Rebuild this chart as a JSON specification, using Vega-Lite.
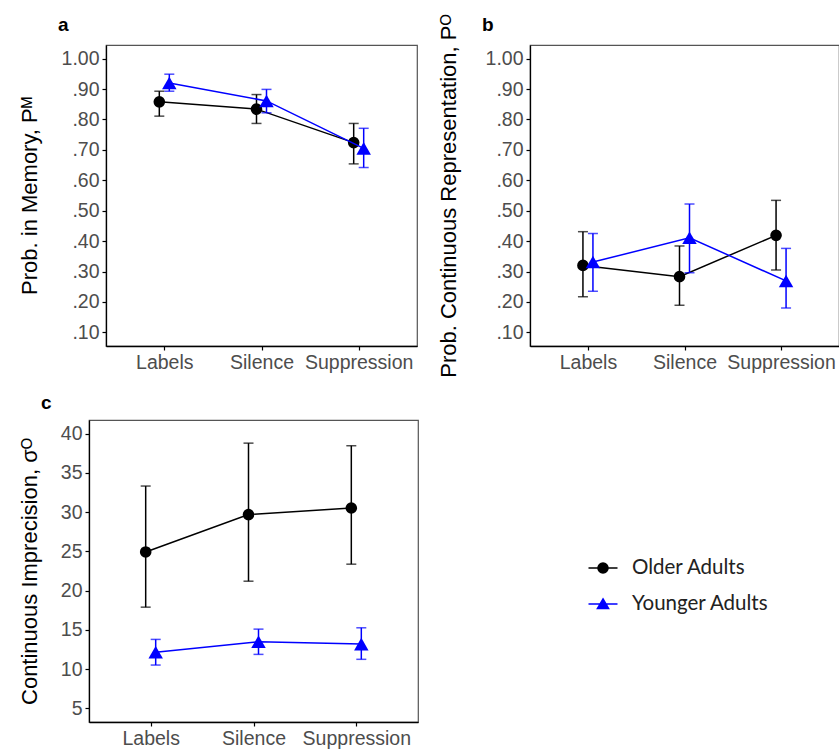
{
  "$schema": "https://vega.github.io/schema/vega-lite/v6.json",
  "background": "white",
  "padding": {"left": 17, "top": 13, "right": 0, "bottom": 0},
  "datasets": {
    "d": [
      {"panel": "a", "cond": "Labels", "group": "Older Adults", "mean": 0.858, "lo": 0.811, "hi": 0.893},
      {"panel": "a", "cond": "Silence", "group": "Older Adults", "mean": 0.834, "lo": 0.787, "hi": 0.882},
      {"panel": "a", "cond": "Suppression", "group": "Older Adults", "mean": 0.724, "lo": 0.654, "hi": 0.787},
      {"panel": "a", "cond": "Labels", "group": "Younger Adults", "mean": 0.920, "lo": 0.893, "hi": 0.949},
      {"panel": "a", "cond": "Silence", "group": "Younger Adults", "mean": 0.861, "lo": 0.822, "hi": 0.899},
      {"panel": "a", "cond": "Suppression", "group": "Younger Adults", "mean": 0.705, "lo": 0.642, "hi": 0.771},
      {"panel": "b", "cond": "Labels", "group": "Older Adults", "mean": 0.320, "lo": 0.217, "hi": 0.431},
      {"panel": "b", "cond": "Silence", "group": "Older Adults", "mean": 0.283, "lo": 0.189, "hi": 0.384},
      {"panel": "b", "cond": "Suppression", "group": "Older Adults", "mean": 0.419, "lo": 0.305, "hi": 0.534},
      {"panel": "b", "cond": "Labels", "group": "Younger Adults", "mean": 0.331, "lo": 0.235, "hi": 0.425},
      {"panel": "b", "cond": "Silence", "group": "Younger Adults", "mean": 0.411, "lo": 0.296, "hi": 0.522},
      {"panel": "b", "cond": "Suppression", "group": "Younger Adults", "mean": 0.269, "lo": 0.180, "hi": 0.376},
      {"panel": "c", "cond": "Labels", "group": "Older Adults", "mean": 24.93, "lo": 17.89, "hi": 33.33},
      {"panel": "c", "cond": "Silence", "group": "Older Adults", "mean": 29.69, "lo": 21.2, "hi": 38.8},
      {"panel": "c", "cond": "Suppression", "group": "Older Adults", "mean": 30.53, "lo": 23.37, "hi": 38.47},
      {"panel": "c", "cond": "Labels", "group": "Younger Adults", "mean": 12.13, "lo": 10.51, "hi": 13.78},
      {"panel": "c", "cond": "Silence", "group": "Younger Adults", "mean": 13.48, "lo": 11.87, "hi": 15.09},
      {"panel": "c", "cond": "Suppression", "group": "Younger Adults", "mean": 13.18, "lo": 11.24, "hi": 15.26}
    ]
  },
  "config": {
    "view": {"stroke": "#555555", "strokeWidth": 1.2},
    "axis": {
      "grid": false, "domainColor": "#000000", "domainWidth": 1.3, "tickColor": "#000000", "tickWidth": 1.2, "tickSize": 4,
      "labelFont": "Liberation Sans", "labelFontSize": 19.5, "labelColor": "#4d4d4d", "labelPadding": 3,
      "titleFont": "Liberation Sans", "titleFontSize": 22, "titleFontWeight": "normal", "titleColor": "#000000"
    },
    "title": {"font": "Liberation Sans", "fontSize": 19, "fontWeight": "bold", "anchor": "start", "frame": "group", "dx": -48, "offset": 10, "color": "#000000"}
  },
  "resolve": {"scale": {"fill": "independent", "stroke": "independent", "shape": "independent"}, "legend": {"fill": "independent", "stroke": "independent", "shape": "independent"}},
  "spacing": 15,
  "columns": 1,
  "align": "none",
  "concat": [
    {
      "bounds": "flush",
      "spacing": 16,
      "hconcat": [
        {"width": 1, "height": 1, "data": {"values": []}, "mark": {"type": "point"}, "encoding": {}, "view": {"stroke": null}},
        {
          "hconcat": [
            {
              "width": 311, "height": 301,
              "title": {"text": "a"},
              "data": {"name": "d"},
              "transform": [{"filter": "datum.panel === 'a'"}],
              "layer": [
                {"transform": [{"filter": "datum.group === 'Older Adults'"}], "mark": {"type": "line", "color": "#000000", "strokeWidth": 1.5, "xOffset": -5},
                 "encoding": {"x": {"field": "cond", "type": "nominal", "sort": ["Labels", "Silence", "Suppression"], "scale": {"type": "point", "padding": 0.6}, "axis": {"title": null, "labelAngle": 0}},
                              "y": {"field": "mean", "type": "quantitative", "scale": {"domain": [0.055, 1.045], "nice": false, "zero": false}, "axis": {"title": "Prob. in Memory, Pᴹ", "values": [0.1, 0.2, 0.3, 0.4, 0.5, 0.6, 0.7, 0.8, 0.9, 1.0], "labelExpr": "datum.value >= 0.999 ? '1.00' : replace(format(datum.value, '.2f'), '0.', '.')", "titlePadding": 20}}}},
                {"transform": [{"filter": "datum.group === 'Older Adults'"}], "mark": {"type": "rule", "color": "#000000", "strokeWidth": 1.5, "xOffset": -5},
                 "encoding": {"x": {"field": "cond", "type": "nominal", "sort": ["Labels", "Silence", "Suppression"], "scale": {"type": "point", "padding": 0.6}, "axis": {"title": null, "labelAngle": 0}},
                              "y": {"field": "lo", "type": "quantitative", "scale": {"domain": [0.055, 1.045], "nice": false, "zero": false}, "axis": {"title": "Prob. in Memory, Pᴹ", "values": [0.1, 0.2, 0.3, 0.4, 0.5, 0.6, 0.7, 0.8, 0.9, 1.0], "labelExpr": "datum.value >= 0.999 ? '1.00' : replace(format(datum.value, '.2f'), '0.', '.')", "titlePadding": 20}},
                              "y2": {"field": "hi"}}},
                {"transform": [{"filter": "datum.group === 'Older Adults'"}, {"fold": ["lo", "hi"], "as": ["k", "v"]}], "mark": {"type": "tick", "color": "#000000", "thickness": 1.5, "size": 10, "xOffset": -5, "orient": "horizontal"},
                 "encoding": {"x": {"field": "cond", "type": "nominal", "sort": ["Labels", "Silence", "Suppression"], "scale": {"type": "point", "padding": 0.6}, "axis": {"title": null, "labelAngle": 0}},
                              "y": {"field": "v", "type": "quantitative", "scale": {"domain": [0.055, 1.045], "nice": false, "zero": false}, "axis": {"title": "Prob. in Memory, Pᴹ", "values": [0.1, 0.2, 0.3, 0.4, 0.5, 0.6, 0.7, 0.8, 0.9, 1.0], "labelExpr": "datum.value >= 0.999 ? '1.00' : replace(format(datum.value, '.2f'), '0.', '.')", "titlePadding": 20}}}},
                {"transform": [{"filter": "datum.group === 'Older Adults'"}], "mark": {"type": "point", "filled": true, "shape": "circle", "size": 135, "color": "#000000", "opacity": 1, "xOffset": -5},
                 "encoding": {"x": {"field": "cond", "type": "nominal", "sort": ["Labels", "Silence", "Suppression"], "scale": {"type": "point", "padding": 0.6}, "axis": {"title": null, "labelAngle": 0}},
                              "y": {"field": "mean", "type": "quantitative", "scale": {"domain": [0.055, 1.045], "nice": false, "zero": false}, "axis": {"title": "Prob. in Memory, Pᴹ", "values": [0.1, 0.2, 0.3, 0.4, 0.5, 0.6, 0.7, 0.8, 0.9, 1.0], "labelExpr": "datum.value >= 0.999 ? '1.00' : replace(format(datum.value, '.2f'), '0.', '.')", "titlePadding": 20}}}},
                {"transform": [{"filter": "datum.group === 'Younger Adults'"}], "mark": {"type": "line", "color": "#0000ff", "strokeWidth": 1.5, "xOffset": 5},
                 "encoding": {"x": {"field": "cond", "type": "nominal", "sort": ["Labels", "Silence", "Suppression"], "scale": {"type": "point", "padding": 0.6}, "axis": {"title": null, "labelAngle": 0}},
                              "y": {"field": "mean", "type": "quantitative", "scale": {"domain": [0.055, 1.045], "nice": false, "zero": false}, "axis": {"title": "Prob. in Memory, Pᴹ", "values": [0.1, 0.2, 0.3, 0.4, 0.5, 0.6, 0.7, 0.8, 0.9, 1.0], "labelExpr": "datum.value >= 0.999 ? '1.00' : replace(format(datum.value, '.2f'), '0.', '.')", "titlePadding": 20}}}},
                {"transform": [{"filter": "datum.group === 'Younger Adults'"}], "mark": {"type": "rule", "color": "#0000ff", "strokeWidth": 1.5, "xOffset": 5},
                 "encoding": {"x": {"field": "cond", "type": "nominal", "sort": ["Labels", "Silence", "Suppression"], "scale": {"type": "point", "padding": 0.6}, "axis": {"title": null, "labelAngle": 0}},
                              "y": {"field": "lo", "type": "quantitative", "scale": {"domain": [0.055, 1.045], "nice": false, "zero": false}, "axis": {"title": "Prob. in Memory, Pᴹ", "values": [0.1, 0.2, 0.3, 0.4, 0.5, 0.6, 0.7, 0.8, 0.9, 1.0], "labelExpr": "datum.value >= 0.999 ? '1.00' : replace(format(datum.value, '.2f'), '0.', '.')", "titlePadding": 20}},
                              "y2": {"field": "hi"}}},
                {"transform": [{"filter": "datum.group === 'Younger Adults'"}, {"fold": ["lo", "hi"], "as": ["k", "v"]}], "mark": {"type": "tick", "color": "#0000ff", "thickness": 1.5, "size": 10, "xOffset": 5, "orient": "horizontal"},
                 "encoding": {"x": {"field": "cond", "type": "nominal", "sort": ["Labels", "Silence", "Suppression"], "scale": {"type": "point", "padding": 0.6}, "axis": {"title": null, "labelAngle": 0}},
                              "y": {"field": "v", "type": "quantitative", "scale": {"domain": [0.055, 1.045], "nice": false, "zero": false}, "axis": {"title": "Prob. in Memory, Pᴹ", "values": [0.1, 0.2, 0.3, 0.4, 0.5, 0.6, 0.7, 0.8, 0.9, 1.0], "labelExpr": "datum.value >= 0.999 ? '1.00' : replace(format(datum.value, '.2f'), '0.', '.')", "titlePadding": 20}}}},
                {"transform": [{"filter": "datum.group === 'Younger Adults'"}], "mark": {"type": "point", "filled": true, "shape": "triangle-up", "size": 210, "color": "#0000ff", "opacity": 1, "xOffset": 5},
                 "encoding": {"x": {"field": "cond", "type": "nominal", "sort": ["Labels", "Silence", "Suppression"], "scale": {"type": "point", "padding": 0.6}, "axis": {"title": null, "labelAngle": 0}},
                              "y": {"field": "mean", "type": "quantitative", "scale": {"domain": [0.055, 1.045], "nice": false, "zero": false}, "axis": {"title": "Prob. in Memory, Pᴹ", "values": [0.1, 0.2, 0.3, 0.4, 0.5, 0.6, 0.7, 0.8, 0.9, 1.0], "labelExpr": "datum.value >= 0.999 ? '1.00' : replace(format(datum.value, '.2f'), '0.', '.')", "titlePadding": 20}}}}
              ]
            },
            {
              "width": 309, "height": 301,
              "title": {"text": "b", "dy": 31},
              "data": {"name": "d"},
              "transform": [{"filter": "datum.panel === 'b'"}],
              "layer": [
                {"transform": [{"filter": "datum.group === 'Older Adults'"}], "mark": {"type": "line", "color": "#000000", "strokeWidth": 1.5, "xOffset": -5},
                 "encoding": {"x": {"field": "cond", "type": "nominal", "sort": ["Labels", "Silence", "Suppression"], "scale": {"type": "point", "padding": 0.6}, "axis": {"title": null, "labelAngle": 0}},
                              "y": {"field": "mean", "type": "quantitative", "scale": {"domain": [0.055, 1.045], "nice": false, "zero": false}, "axis": {"title": "Prob. Continuous Representation, Pᴼ", "values": [0.1, 0.2, 0.3, 0.4, 0.5, 0.6, 0.7, 0.8, 0.9, 1.0], "labelExpr": "datum.value >= 0.999 ? '1.00' : replace(format(datum.value, '.2f'), '0.', '.')", "titlePadding": 25}}}},
                {"transform": [{"filter": "datum.group === 'Older Adults'"}], "mark": {"type": "rule", "color": "#000000", "strokeWidth": 1.5, "xOffset": -5},
                 "encoding": {"x": {"field": "cond", "type": "nominal", "sort": ["Labels", "Silence", "Suppression"], "scale": {"type": "point", "padding": 0.6}, "axis": {"title": null, "labelAngle": 0}},
                              "y": {"field": "lo", "type": "quantitative", "scale": {"domain": [0.055, 1.045], "nice": false, "zero": false}, "axis": {"title": "Prob. Continuous Representation, Pᴼ", "values": [0.1, 0.2, 0.3, 0.4, 0.5, 0.6, 0.7, 0.8, 0.9, 1.0], "labelExpr": "datum.value >= 0.999 ? '1.00' : replace(format(datum.value, '.2f'), '0.', '.')", "titlePadding": 25}},
                              "y2": {"field": "hi"}}},
                {"transform": [{"filter": "datum.group === 'Older Adults'"}, {"fold": ["lo", "hi"], "as": ["k", "v"]}], "mark": {"type": "tick", "color": "#000000", "thickness": 1.5, "size": 10, "xOffset": -5, "orient": "horizontal"},
                 "encoding": {"x": {"field": "cond", "type": "nominal", "sort": ["Labels", "Silence", "Suppression"], "scale": {"type": "point", "padding": 0.6}, "axis": {"title": null, "labelAngle": 0}},
                              "y": {"field": "v", "type": "quantitative", "scale": {"domain": [0.055, 1.045], "nice": false, "zero": false}, "axis": {"title": "Prob. Continuous Representation, Pᴼ", "values": [0.1, 0.2, 0.3, 0.4, 0.5, 0.6, 0.7, 0.8, 0.9, 1.0], "labelExpr": "datum.value >= 0.999 ? '1.00' : replace(format(datum.value, '.2f'), '0.', '.')", "titlePadding": 25}}}},
                {"transform": [{"filter": "datum.group === 'Older Adults'"}], "mark": {"type": "point", "filled": true, "shape": "circle", "size": 135, "color": "#000000", "opacity": 1, "xOffset": -5},
                 "encoding": {"x": {"field": "cond", "type": "nominal", "sort": ["Labels", "Silence", "Suppression"], "scale": {"type": "point", "padding": 0.6}, "axis": {"title": null, "labelAngle": 0}},
                              "y": {"field": "mean", "type": "quantitative", "scale": {"domain": [0.055, 1.045], "nice": false, "zero": false}, "axis": {"title": "Prob. Continuous Representation, Pᴼ", "values": [0.1, 0.2, 0.3, 0.4, 0.5, 0.6, 0.7, 0.8, 0.9, 1.0], "labelExpr": "datum.value >= 0.999 ? '1.00' : replace(format(datum.value, '.2f'), '0.', '.')", "titlePadding": 25}}}},
                {"transform": [{"filter": "datum.group === 'Younger Adults'"}], "mark": {"type": "line", "color": "#0000ff", "strokeWidth": 1.5, "xOffset": 5},
                 "encoding": {"x": {"field": "cond", "type": "nominal", "sort": ["Labels", "Silence", "Suppression"], "scale": {"type": "point", "padding": 0.6}, "axis": {"title": null, "labelAngle": 0}},
                              "y": {"field": "mean", "type": "quantitative", "scale": {"domain": [0.055, 1.045], "nice": false, "zero": false}, "axis": {"title": "Prob. Continuous Representation, Pᴼ", "values": [0.1, 0.2, 0.3, 0.4, 0.5, 0.6, 0.7, 0.8, 0.9, 1.0], "labelExpr": "datum.value >= 0.999 ? '1.00' : replace(format(datum.value, '.2f'), '0.', '.')", "titlePadding": 25}}}},
                {"transform": [{"filter": "datum.group === 'Younger Adults'"}], "mark": {"type": "rule", "color": "#0000ff", "strokeWidth": 1.5, "xOffset": 5},
                 "encoding": {"x": {"field": "cond", "type": "nominal", "sort": ["Labels", "Silence", "Suppression"], "scale": {"type": "point", "padding": 0.6}, "axis": {"title": null, "labelAngle": 0}},
                              "y": {"field": "lo", "type": "quantitative", "scale": {"domain": [0.055, 1.045], "nice": false, "zero": false}, "axis": {"title": "Prob. Continuous Representation, Pᴼ", "values": [0.1, 0.2, 0.3, 0.4, 0.5, 0.6, 0.7, 0.8, 0.9, 1.0], "labelExpr": "datum.value >= 0.999 ? '1.00' : replace(format(datum.value, '.2f'), '0.', '.')", "titlePadding": 25}},
                              "y2": {"field": "hi"}}},
                {"transform": [{"filter": "datum.group === 'Younger Adults'"}, {"fold": ["lo", "hi"], "as": ["k", "v"]}], "mark": {"type": "tick", "color": "#0000ff", "thickness": 1.5, "size": 10, "xOffset": 5, "orient": "horizontal"},
                 "encoding": {"x": {"field": "cond", "type": "nominal", "sort": ["Labels", "Silence", "Suppression"], "scale": {"type": "point", "padding": 0.6}, "axis": {"title": null, "labelAngle": 0}},
                              "y": {"field": "v", "type": "quantitative", "scale": {"domain": [0.055, 1.045], "nice": false, "zero": false}, "axis": {"title": "Prob. Continuous Representation, Pᴼ", "values": [0.1, 0.2, 0.3, 0.4, 0.5, 0.6, 0.7, 0.8, 0.9, 1.0], "labelExpr": "datum.value >= 0.999 ? '1.00' : replace(format(datum.value, '.2f'), '0.', '.')", "titlePadding": 25}}}},
                {"transform": [{"filter": "datum.group === 'Younger Adults'"}], "mark": {"type": "point", "filled": true, "shape": "triangle-up", "size": 210, "color": "#0000ff", "opacity": 1, "xOffset": 5},
                 "encoding": {"x": {"field": "cond", "type": "nominal", "sort": ["Labels", "Silence", "Suppression"], "scale": {"type": "point", "padding": 0.6}, "axis": {"title": null, "labelAngle": 0}},
                              "y": {"field": "mean", "type": "quantitative", "scale": {"domain": [0.055, 1.045], "nice": false, "zero": false}, "axis": {"title": "Prob. Continuous Representation, Pᴼ", "values": [0.1, 0.2, 0.3, 0.4, 0.5, 0.6, 0.7, 0.8, 0.9, 1.0], "labelExpr": "datum.value >= 0.999 ? '1.00' : replace(format(datum.value, '.2f'), '0.', '.')", "titlePadding": 25}}}}
              ]
            }
          ],
          "bounds": "flush",
          "spacing": 113
        }
      ]
    },
    {
      "width": 329, "height": 302,
      "title": {"text": "c", "offset": 7},
      "data": {"name": "d"},
      "transform": [{"filter": "datum.panel === 'c'"}],
      "layer": [
        {"transform": [{"filter": "datum.group === 'Older Adults'"}], "mark": {"type": "line", "color": "#000000", "strokeWidth": 1.5, "xOffset": -5},
         "encoding": {"x": {"field": "cond", "type": "nominal", "sort": ["Labels", "Silence", "Suppression"], "scale": {"type": "point", "padding": 0.6}, "axis": {"title": null, "labelAngle": 0}},
                      "y": {"field": "mean", "type": "quantitative", "scale": {"domain": [3.25, 41.75], "nice": false, "zero": false}, "axis": {"title": "Continuous Imprecision, σᴼ", "values": [5, 10, 15, 20, 25, 30, 35, 40], "titlePadding": 19}}}},
        {"transform": [{"filter": "datum.group === 'Older Adults'"}], "mark": {"type": "rule", "color": "#000000", "strokeWidth": 1.5, "xOffset": -5},
         "encoding": {"x": {"field": "cond", "type": "nominal", "sort": ["Labels", "Silence", "Suppression"], "scale": {"type": "point", "padding": 0.6}, "axis": {"title": null, "labelAngle": 0}},
                      "y": {"field": "lo", "type": "quantitative", "scale": {"domain": [3.25, 41.75], "nice": false, "zero": false}, "axis": {"title": "Continuous Imprecision, σᴼ", "values": [5, 10, 15, 20, 25, 30, 35, 40], "titlePadding": 19}},
                      "y2": {"field": "hi"}}},
        {"transform": [{"filter": "datum.group === 'Older Adults'"}, {"fold": ["lo", "hi"], "as": ["k", "v"]}], "mark": {"type": "tick", "color": "#000000", "thickness": 1.5, "size": 10, "xOffset": -5, "orient": "horizontal"},
         "encoding": {"x": {"field": "cond", "type": "nominal", "sort": ["Labels", "Silence", "Suppression"], "scale": {"type": "point", "padding": 0.6}, "axis": {"title": null, "labelAngle": 0}},
                      "y": {"field": "v", "type": "quantitative", "scale": {"domain": [3.25, 41.75], "nice": false, "zero": false}, "axis": {"title": "Continuous Imprecision, σᴼ", "values": [5, 10, 15, 20, 25, 30, 35, 40], "titlePadding": 19}}}},
        {"transform": [{"filter": "datum.group === 'Older Adults'"}], "mark": {"type": "point", "filled": true, "shape": "circle", "size": 135, "color": "#000000", "opacity": 1, "xOffset": -5},
         "encoding": {"x": {"field": "cond", "type": "nominal", "sort": ["Labels", "Silence", "Suppression"], "scale": {"type": "point", "padding": 0.6}, "axis": {"title": null, "labelAngle": 0}},
                      "y": {"field": "mean", "type": "quantitative", "scale": {"domain": [3.25, 41.75], "nice": false, "zero": false}, "axis": {"title": "Continuous Imprecision, σᴼ", "values": [5, 10, 15, 20, 25, 30, 35, 40], "titlePadding": 19}}}},
        {"transform": [{"filter": "datum.group === 'Younger Adults'"}], "mark": {"type": "line", "color": "#0000ff", "strokeWidth": 1.5, "xOffset": 5},
         "encoding": {"x": {"field": "cond", "type": "nominal", "sort": ["Labels", "Silence", "Suppression"], "scale": {"type": "point", "padding": 0.6}, "axis": {"title": null, "labelAngle": 0}},
                      "y": {"field": "mean", "type": "quantitative", "scale": {"domain": [3.25, 41.75], "nice": false, "zero": false}, "axis": {"title": "Continuous Imprecision, σᴼ", "values": [5, 10, 15, 20, 25, 30, 35, 40], "titlePadding": 19}}}},
        {"transform": [{"filter": "datum.group === 'Younger Adults'"}], "mark": {"type": "rule", "color": "#0000ff", "strokeWidth": 1.5, "xOffset": 5},
         "encoding": {"x": {"field": "cond", "type": "nominal", "sort": ["Labels", "Silence", "Suppression"], "scale": {"type": "point", "padding": 0.6}, "axis": {"title": null, "labelAngle": 0}},
                      "y": {"field": "lo", "type": "quantitative", "scale": {"domain": [3.25, 41.75], "nice": false, "zero": false}, "axis": {"title": "Continuous Imprecision, σᴼ", "values": [5, 10, 15, 20, 25, 30, 35, 40], "titlePadding": 19}},
                      "y2": {"field": "hi"}}},
        {"transform": [{"filter": "datum.group === 'Younger Adults'"}, {"fold": ["lo", "hi"], "as": ["k", "v"]}], "mark": {"type": "tick", "color": "#0000ff", "thickness": 1.5, "size": 10, "xOffset": 5, "orient": "horizontal"},
         "encoding": {"x": {"field": "cond", "type": "nominal", "sort": ["Labels", "Silence", "Suppression"], "scale": {"type": "point", "padding": 0.6}, "axis": {"title": null, "labelAngle": 0}},
                      "y": {"field": "v", "type": "quantitative", "scale": {"domain": [3.25, 41.75], "nice": false, "zero": false}, "axis": {"title": "Continuous Imprecision, σᴼ", "values": [5, 10, 15, 20, 25, 30, 35, 40], "titlePadding": 19}}}},
        {"transform": [{"filter": "datum.group === 'Younger Adults'"}], "mark": {"type": "point", "filled": true, "shape": "triangle-up", "size": 210, "color": "#0000ff", "opacity": 1, "xOffset": 5},
         "encoding": {"x": {"field": "cond", "type": "nominal", "sort": ["Labels", "Silence", "Suppression"], "scale": {"type": "point", "padding": 0.6}, "axis": {"title": null, "labelAngle": 0}},
                      "y": {"field": "mean", "type": "quantitative", "scale": {"domain": [3.25, 41.75], "nice": false, "zero": false}, "axis": {"title": "Continuous Imprecision, σᴼ", "values": [5, 10, 15, 20, 25, 30, 35, 40], "titlePadding": 19}}}},
        {"transform": [{"filter": "false"}], "mark": {"type": "point", "filled": true, "size": 400, "opacity": 1, "strokeWidth": 1.6},
         "encoding": {"x": {"field": "cond", "type": "nominal", "sort": ["Labels", "Silence", "Suppression"], "scale": {"type": "point", "padding": 0.6}, "axis": {"title": null, "labelAngle": 0}},
                      "y": {"field": "mean", "type": "quantitative", "scale": {"domain": [3.25, 41.75], "nice": false, "zero": false}, "axis": {"title": "Continuous Imprecision, σᴼ", "values": [5, 10, 15, 20, 25, 30, 35, 40], "titlePadding": 19}},
                      "fill": {"field": "group", "type": "nominal", "scale": {"domain": ["Older Adults", "Younger Adults"], "range": ["#000000", "#0000ff"]},
                               "legend": {"orient": "none", "legendX": 503, "legendY": 137, "title": null, "symbolSize": 400, "symbolStrokeWidth": 1.6, "labelFont": "Lato", "labelFontSize": 20.5, "labelColor": "#222222", "labelOffset": 18, "rowPadding": 14, "padding": 0}},
                      "stroke": {"field": "group", "type": "nominal", "scale": {"domain": ["Older Adults", "Younger Adults"], "range": ["#000000", "#0000ff"]},
                               "legend": {"orient": "none", "legendX": 503, "legendY": 137, "title": null, "symbolSize": 400, "symbolStrokeWidth": 1.6, "labelFont": "Lato", "labelFontSize": 20.5, "labelColor": "#222222", "labelOffset": 18, "rowPadding": 14, "padding": 0}},
                      "shape": {"field": "group", "type": "nominal", "scale": {"domain": ["Older Adults", "Younger Adults"], "range": ["M-1.45,0L1.45,0M-0.5,0A0.5,0.5,0,1,1,0.5,0A0.5,0.5,0,1,1,-0.5,0Z", "M-1.45,0L1.45,0M0,-0.5L0.55,0.45L-0.55,0.45Z"]},
                               "legend": {"orient": "none", "legendX": 503, "legendY": 137, "title": null, "symbolSize": 400, "symbolStrokeWidth": 1.6, "labelFont": "Lato", "labelFontSize": 20.5, "labelColor": "#222222", "labelOffset": 18, "rowPadding": 14, "padding": 0}}}}
      ]
    }
  ]
}
